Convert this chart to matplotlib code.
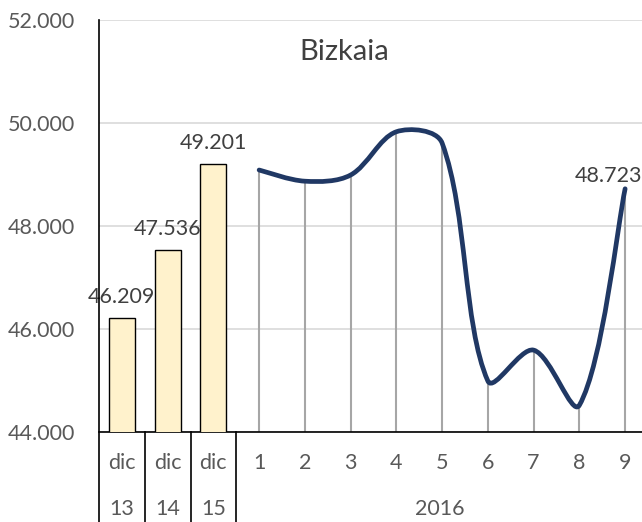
import matplotlib
matplotlib.use("Agg")
import matplotlib.pyplot as plt
import numpy as np
from matplotlib.path import Path
from matplotlib.patches import PathPatch
from matplotlib.ticker import FuncFormatter

plt.rcParams["font.family"] = ["Lato", "DejaVu Sans"]

bar_labels = ["dic", "dic", "dic"]
bar_years = ["13", "14", "15"]
bar_values = [46209, 47536, 49201]

months = ["1", "2", "3", "4", "5", "6", "7", "8", "9"]
month_values = [49087, 48870, 48990, 49830, 49610, 44990, 45590, 44520, 48723]
year_label = "2016"

TEXT = "#595959"
LINE = "#203864"
FS = 15.5

fig = plt.figure(figsize=(6.42, 5.22), dpi=100)
ax = fig.add_axes([99 / 642, 90 / 522, 549 / 642, 412 / 522])

nb = len(bar_values)
bx = list(range(nb))
mx = [nb + i for i in range(len(months))]

ax.set_xlim(-0.5, nb + len(months) - 0.5)
ax.set_ylim(44000, 52000)

ax.bar(bx, bar_values, width=0.57, color="#FFF2CC", edgecolor="black", linewidth=1.0, zorder=3)
for x, v in zip(bx, bar_values):
    ax.annotate(f"{v:,}".replace(",", "."), (x, v), xytext=(0, 8), textcoords="offset points",
                ha="center", va="bottom", fontsize=FS, color="#404040", zorder=5)

# drop lines
ax.vlines(mx, 44000, month_values, color="#A6A6A6", linewidth=1.5, zorder=2)

# smoothed line: bezier segments with chord-length scaled tangents in screen space
pts = ax.transData.transform(np.column_stack([mx, month_values]))
n = len(pts)
verts = [pts[0]]
codes = [Path.MOVETO]
for i in range(n - 1):
    p0 = pts[i - 1] if i > 0 else pts[i]
    p1 = pts[i]
    p2 = pts[i + 1]
    p3 = pts[i + 2] if i + 2 < n else pts[i + 1]
    d01 = np.hypot(*(p1 - p0))
    d12 = np.hypot(*(p2 - p1))
    d23 = np.hypot(*(p3 - p2))
    s1 = d12 / (d01 + d12) / 3 if d01 > 0 else 1 / 6
    s2 = d12 / (d12 + d23) / 3 if d23 > 0 else 1 / 6
    c1 = p1 + (p2 - p0) * s1
    c2 = p2 - (p3 - p1) * s2
    verts += [c1, c2, p2]
    codes += [Path.CURVE4] * 3
verts = ax.transData.inverted().transform(np.array(verts))
ax.add_patch(PathPatch(Path(verts, codes), facecolor="none", edgecolor=LINE,
                       linewidth=3.4, capstyle="round", joinstyle="round", zorder=4))
ax.annotate(f"{month_values[-1]:,}".replace(",", "."), (mx[-1], month_values[-1]),
            xytext=(-12, 2), textcoords="offset points", ha="center", va="bottom",
            fontsize=FS, color="#404040", zorder=5, annotation_clip=False)

ax.set_yticks(range(44000, 52001, 2000))
ax.yaxis.set_major_formatter(FuncFormatter(lambda v, p: f"{int(v):,}".replace(",", ".")))
ax.tick_params(axis="y", length=0, pad=17, labelsize=FS, labelcolor=TEXT)
ax.set_xticks([])
ax.grid(axis="y", color="#D9D9D9", linewidth=1.2, zorder=0)
ax.set_axisbelow(True)
for s in ["top", "right", "left"]:
    ax.spines[s].set_visible(False)
ax.spines["bottom"].set_linewidth(1.2)

tr = ax.get_xaxis_transform()
bottom = -90 / 412
for xb in [-0.5, 0.5, 1.5, 2.5]:
    ax.plot([xb, xb], [1 if xb == -0.5 else 0, bottom], transform=tr, color="black",
            linewidth=1.2, clip_on=False, zorder=6)

for x, lab, yr in zip(bx, bar_labels, bar_years):
    ax.text(x, -31 / 412, lab, transform=tr, ha="center", va="center", fontsize=FS, color=TEXT)
    ax.text(x, -77 / 412, yr, transform=tr, ha="center", va="center", fontsize=FS, color=TEXT)
for x, lab in zip(mx, months):
    ax.text(x, -31 / 412, lab, transform=tr, ha="center", va="center", fontsize=FS, color=TEXT)
ax.text(sum(mx) / len(mx) - 0.05, -77 / 412, year_label, transform=tr, ha="center", va="center",
        fontsize=FS, color=TEXT)

ax.text(4.86, 51223, "Bizkaia", ha="center", va="baseline", fontsize=21, color="#404040")

fig.savefig("out.png", dpi=100)
